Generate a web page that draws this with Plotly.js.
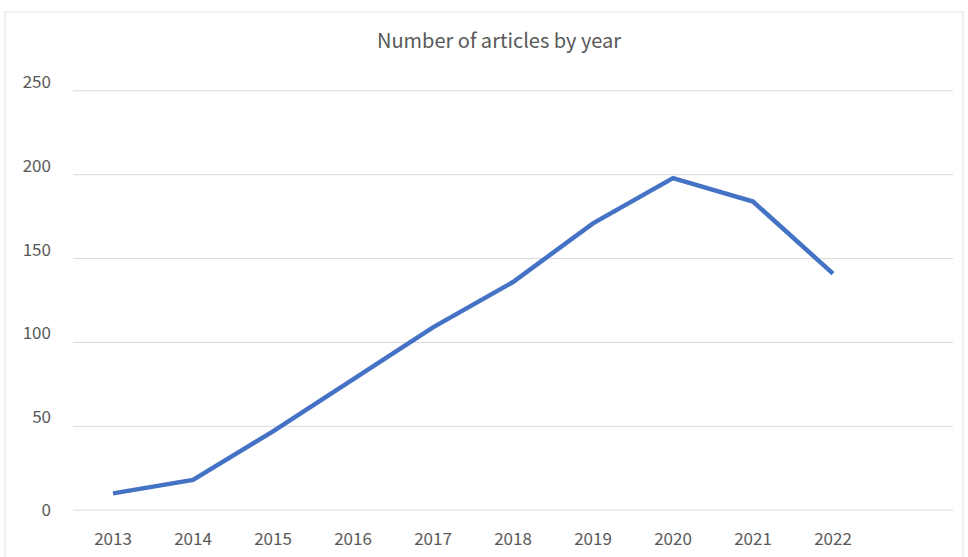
<!DOCTYPE html>
<html>
<head>
<meta charset="utf-8">
<script src="https://cdn.plot.ly/plotly-3.0.1.min.js"></script>
<style>html,body{margin:0;padding:0;background:#fff;}#chart{width:968px;height:557px;}</style>
</head>
<body>
<div id="chart"></div>
<script>
const years = ["2013","2014","2015","2016","2017","2018","2019","2020","2021","2022"];
const articles = [10, 18, 47, 78, 109, 136, 171, 198, 184, 141];
const yTicks = [0, 50, 100, 150, 200, 250];
const yTickTextUpper = ["", "50", "100", "150", "200", "250"];
const yTickZero = [0];
const chartTitle = "Number of articles by year";

const fontFam = "'Noto Sans CJK KR', 'Noto Sans', sans-serif";

const trace = {
  x: years,
  y: articles,
  type: "scatter",
  mode: "lines",
  line: {color: "#4472C4", width: 4.5},
  hoverinfo: "x+y"
};
const zeroAxisTrace = {
  x: [], y: [], type: "scatter", mode: "lines", yaxis: "y2", hoverinfo: "skip", showlegend: false
};

const tickFont = {family: fontFam, size: 17, color: "#595959"};
const yRange = [-0.5, 250.5];

const gridShapes = yTicks.map(v => ({
  type: "line", xref: "paper", yref: "y", x0: 0, x1: 1, y0: v, y1: v,
  line: {color: "#d9d9d9", width: 1}, layer: "below"
}));

const layout = {
  width: 968, height: 557,
  margin: {l: 73, r: 15, t: 90, b: 46},
  paper_bgcolor: "#fff", plot_bgcolor: "#fff",
  showlegend: false,
  title: {
    text: chartTitle,
    font: {family: fontFam, size: 20, color: "#595959"},
    x: 499/968, xref: "container", y: 1 - 41/557, yanchor: "middle", xanchor: "center"
  },
  xaxis: {
    type: "category",
    categoryorder: "array",
    categoryarray: years.concat([" "]),
    range: [-0.5, 10.5],
    showgrid: false, zeroline: false, showline: false,
    ticks: "",
    tickfont: tickFont,
    ticklabelstandoff: 16
  },
  yaxis: {
    range: yRange,
    tickvals: yTicks,
    ticktext: yTickTextUpper,
    showgrid: false,
    zeroline: false, showline: false, ticks: "",
    tickfont: tickFont,
    ticklabelstandoff: 21,
    ticklabelshift: -9
  },
  yaxis2: {
    overlaying: "y", side: "left",
    range: yRange,
    tickvals: yTickZero,
    showgrid: false,
    zeroline: false, showline: false, ticks: "",
    tickfont: tickFont,
    ticklabelstandoff: 21
  },
  shapes: [{
    type: "rect", xref: "paper", yref: "paper",
    x0: (5-73)/880, x1: (963-73)/880,
    y0: -0.2, y1: (511-12)/421,
    line: {color: "#e3e3e3", width: 1}, fillcolor: "rgba(0,0,0,0)", layer: "below"
  }].concat(gridShapes)
};

Plotly.newPlot("chart", [trace, zeroAxisTrace], layout, {displayModeBar: false, staticPlot: true});
</script>
</body>
</html>
